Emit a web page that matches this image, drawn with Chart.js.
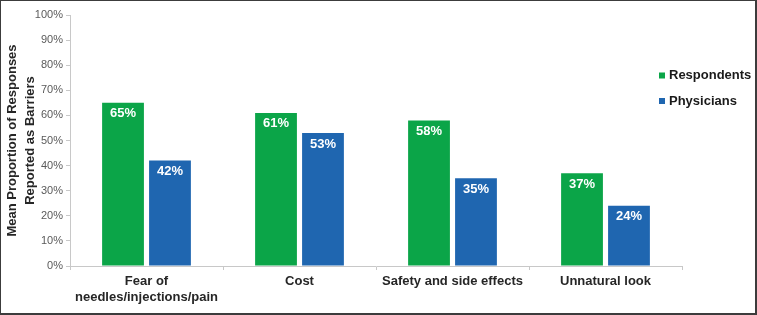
<!DOCTYPE html>
<html>
<head>
<meta charset="utf-8">
<script src="https://cdn.jsdelivr.net/npm/chart.js@4/dist/chart.umd.min.js"></script>
<style>
  html, body { margin: 0; padding: 0; background: #fff; }
  #wrap {
    width: 757px; height: 315px; box-sizing: border-box;
    border: 1px solid #3c3c3c; border-right-width: 2px; border-bottom-width: 2px;
    position: relative;
  }
  #wrap canvas { display: block; }
</style>
</head>
<body>
<div id="wrap"><canvas id="chart" width="754" height="312"></canvas></div>
<script>
// barriers chart data
const categories = [
  ['Fear of', 'needles/injections/pain'],
  'Cost',
  'Safety and side effects',
  'Unnatural look'
];
const respondents = [65, 61, 58, 37];
const physicians = [42, 53, 35, 24];
const seriesNames = ['Respondents', 'Physicians'];
const seriesColors = ['#0ba548', '#1f66b0'];
const yTicks = [0, 10, 20, 30, 40, 50, 60, 70, 80, 90, 100];

const FONT = "'Liberation Sans', Arial, sans-serif";

// white % labels near the top of each bar
const barLabels = {
  id: 'barLabels',
  afterDatasetsDraw(chart) {
    const ctx = chart.ctx;
    ctx.save();
    ctx.font = 'bold 13px ' + FONT;
    ctx.fillStyle = '#ffffff';
    ctx.textAlign = 'center';
    ctx.textBaseline = 'middle';
    chart.data.datasets.forEach(function (ds, i) {
      chart.getDatasetMeta(i).data.forEach(function (bar, j) {
        ctx.fillText(ds.data[j] + '%', bar.x, bar.y + 11);
      });
    });
    ctx.restore();
  }
};

// legend on the right, drawn by hand
const sideLegend = {
  id: 'sideLegend',
  afterDraw(chart) {
    const ctx = chart.ctx;
    const x0 = chart.chartArea.right - 23;
    ctx.save();
    ctx.font = 'bold 13px ' + FONT;
    ctx.textBaseline = 'middle';
    chart.data.datasets.forEach(function (ds, i) {
      const y = 74.5 + i * 25.5;
      ctx.fillStyle = ds.backgroundColor;
      ctx.fillRect(x0, y - 3, 6, 6);
      ctx.fillStyle = '#1a1a1a';
      ctx.fillText(ds.label, x0 + 10, y);
    });
    ctx.restore();
  }
};

const data = {
  labels: categories,
  datasets: [
    { label: seriesNames[0], data: respondents, backgroundColor: seriesColors[0] },
    { label: seriesNames[1], data: physicians, backgroundColor: seriesColors[1] }
  ]
};

const config = {
  type: 'bar',
  data: data,
  options: {
    responsive: false,
    animation: false,
    devicePixelRatio: 1,
    categoryPercentage: 0.614,
    barPercentage: 0.89,
    layout: { padding: { top: 14, right: 73, left: 0, bottom: 0 } },
    plugins: {
      legend: { display: false },
      tooltip: { enabled: false }
    },
    scales: {
      y: {
        min: 0,
        max: 100,
        afterFit: function (scale) { scale.width = 69; },
        afterBuildTicks: function (scale) { scale.ticks = yTicks.map(function (v) { return { value: v }; }); },
        border: { color: '#c8c8c8', width: 1 },
        grid: { display: true, drawOnChartArea: false, tickLength: 4, color: '#c8c8c8' },
        ticks: {
          padding: 3,
          color: '#5a5a5a',
          font: { family: FONT, size: 11 },
          callback: function (v) { return v + '%'; }
        },
        title: {
          display: true,
          text: ['Mean Proportion of Responses', 'Reported as Barriers'],
          color: '#262626',
          font: { family: FONT, size: 13, weight: 'bold', lineHeight: '18px' },
          padding: { top: 2, bottom: 0 }
        }
      },
      x: {
        afterFit: function (scale) { scale.height = 47; },
        border: { color: '#c8c8c8', width: 1 },
        grid: { display: true, drawOnChartArea: false, offset: true, tickLength: 4, color: '#c8c8c8' },
        ticks: {
          padding: 4,
          color: '#262626',
          maxRotation: 0,
          autoSkip: false,
          font: { family: FONT, size: 13, weight: 'bold', lineHeight: 1.2 }
        }
      }
    }
  },
  plugins: [barLabels, sideLegend]
};

const myChart = new Chart(document.getElementById('chart'), config);
</script>
</body>
</html>
